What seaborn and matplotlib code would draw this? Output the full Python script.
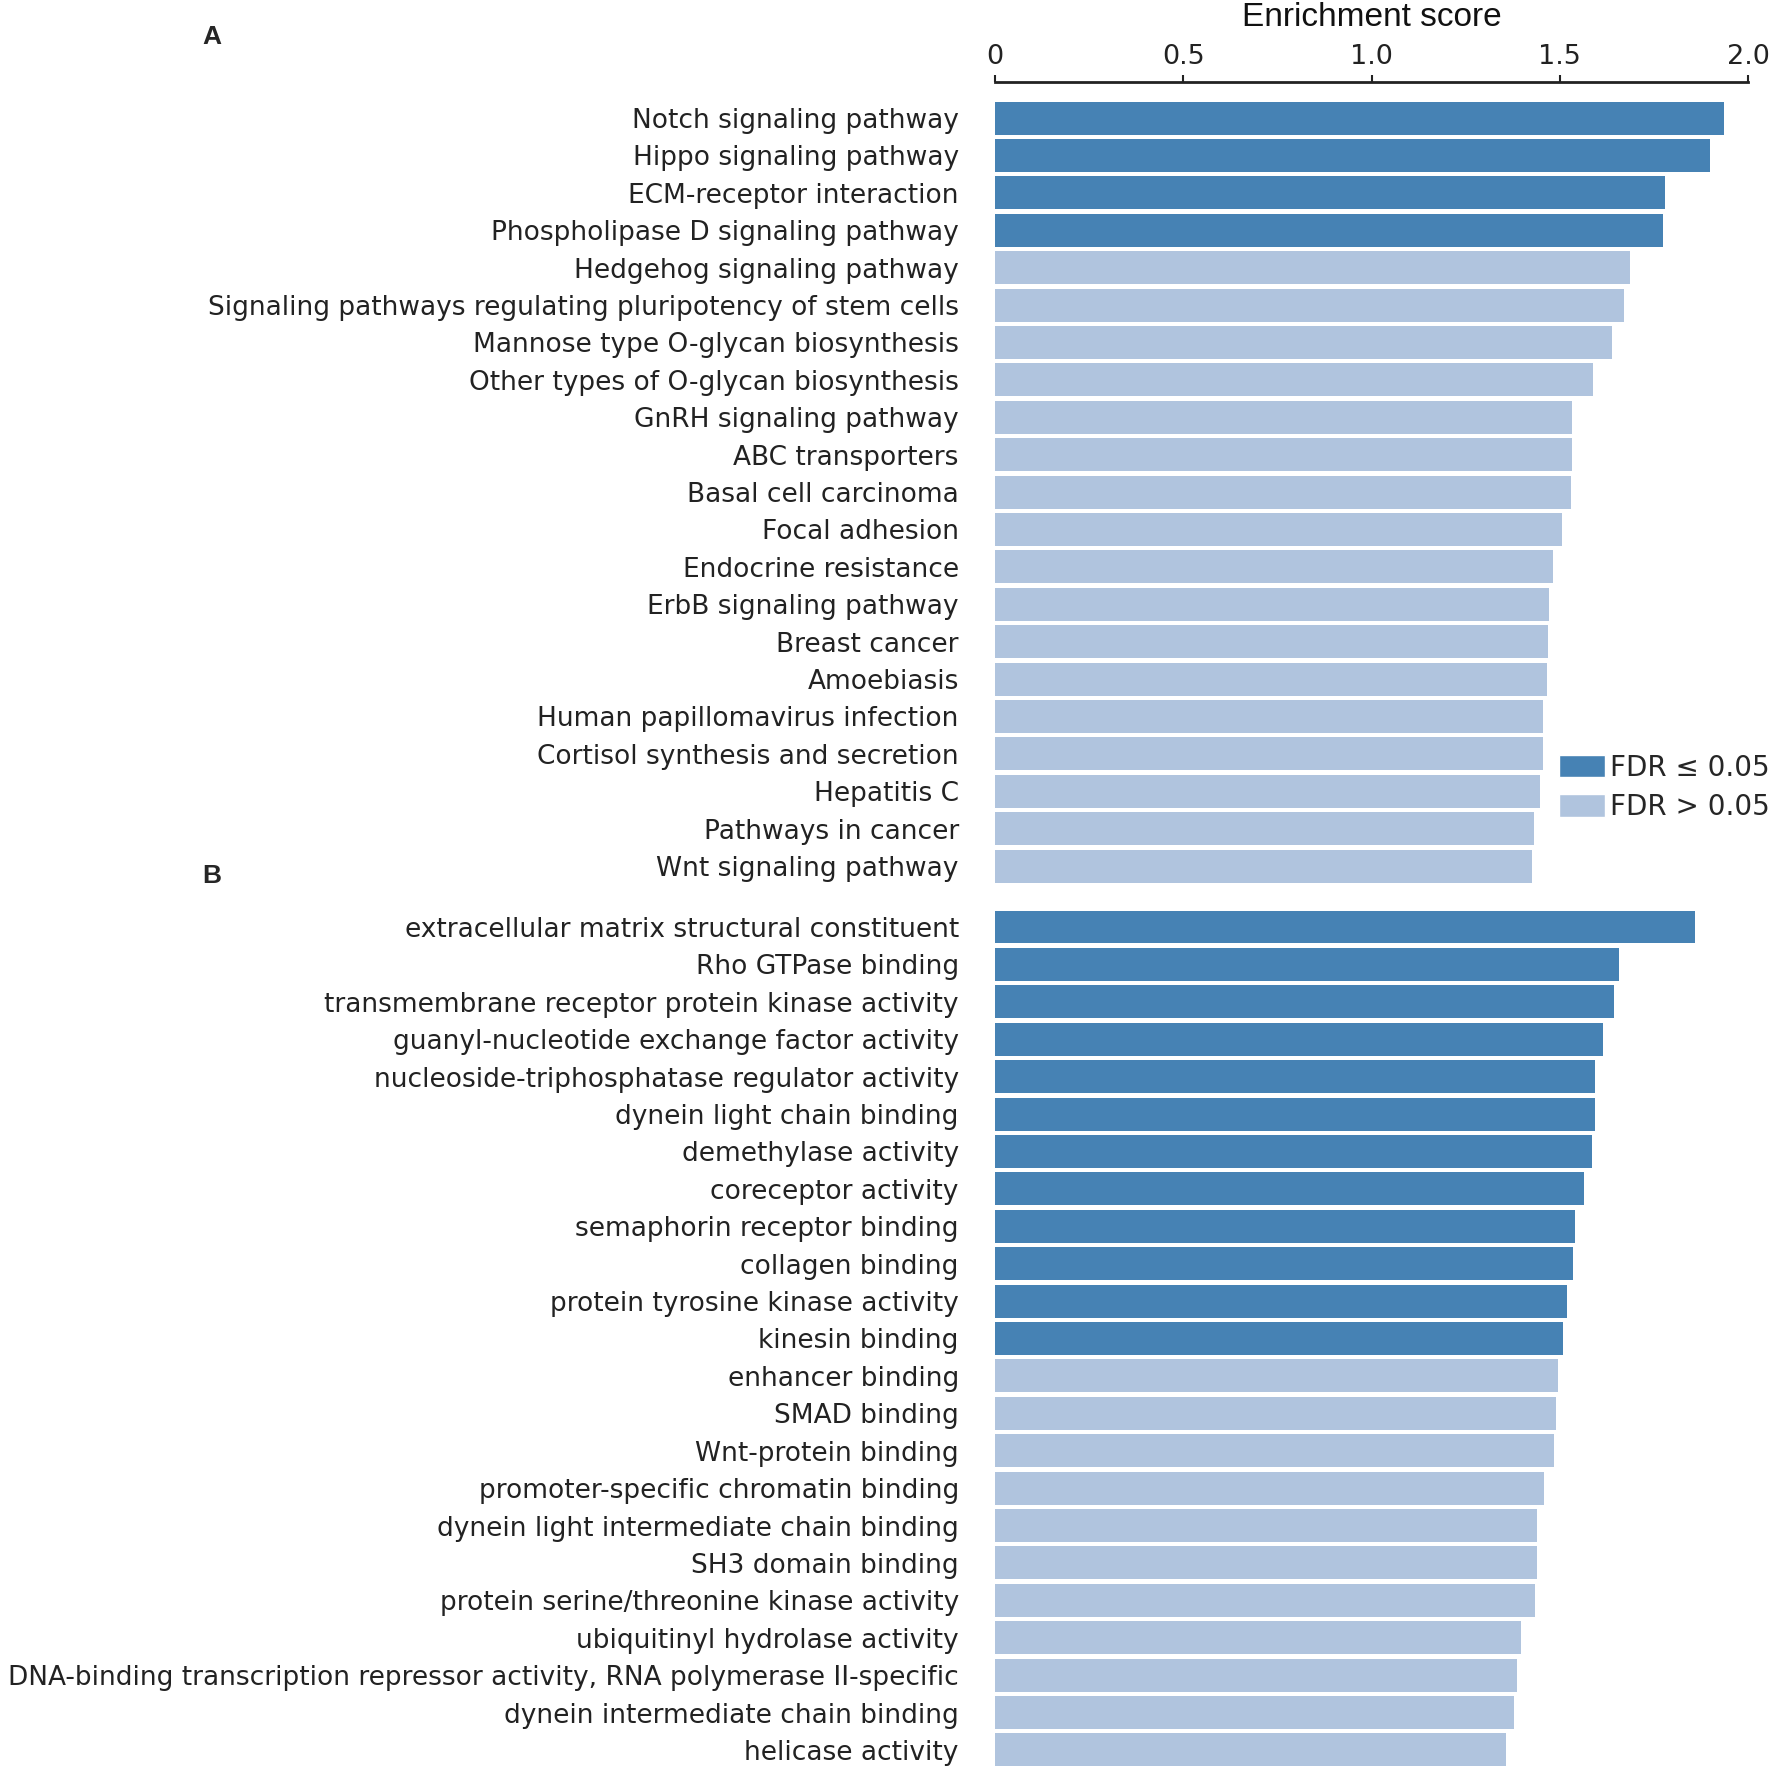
import matplotlib
matplotlib.use("Agg")
import matplotlib.pyplot as plt
import seaborn as sns
import pandas as pd
from matplotlib.patches import Patch

SIG = "FDR \u2264 0.05"
NS = "FDR > 0.05"

# panel A: KEGG pathways
kegg_terms = [
    "Notch signaling pathway",
    "Hippo signaling pathway",
    "ECM-receptor interaction",
    "Phospholipase D signaling pathway",
    "Hedgehog signaling pathway",
    "Signaling pathways regulating pluripotency of stem cells",
    "Mannose type O-glycan biosynthesis",
    "Other types of O-glycan biosynthesis",
    "GnRH signaling pathway",
    "ABC transporters",
    "Basal cell carcinoma",
    "Focal adhesion",
    "Endocrine resistance",
    "ErbB signaling pathway",
    "Breast cancer",
    "Amoebiasis",
    "Human papillomavirus infection",
    "Cortisol synthesis and secretion",
    "Hepatitis C",
    "Pathways in cancer",
    "Wnt signaling pathway",
]
kegg_scores = [1.936, 1.898, 1.780, 1.773, 1.686, 1.670, 1.638, 1.588, 1.533,
               1.533, 1.531, 1.505, 1.483, 1.471, 1.469, 1.465, 1.456, 1.456,
               1.448, 1.431, 1.427]
kegg_fdr = [SIG] * 4 + [NS] * 17

# panel B: GO molecular function
go_terms = [
    "extracellular matrix structural constituent",
    "Rho GTPase binding",
    "transmembrane receptor protein kinase activity",
    "guanyl-nucleotide exchange factor activity",
    "nucleoside-triphosphatase regulator activity",
    "dynein light chain binding",
    "demethylase activity",
    "coreceptor activity",
    "semaphorin receptor binding",
    "collagen binding",
    "protein tyrosine kinase activity",
    "kinesin binding",
    "enhancer binding",
    "SMAD binding",
    "Wnt-protein binding",
    "promoter-specific chromatin binding",
    "dynein light intermediate chain binding",
    "SH3 domain binding",
    "protein serine/threonine kinase activity",
    "ubiquitinyl hydrolase activity",
    "DNA-binding transcription repressor activity, RNA polymerase II-specific",
    "dynein intermediate chain binding",
    "helicase activity",
]
go_scores = [1.860, 1.658, 1.645, 1.616, 1.594, 1.594, 1.585, 1.565, 1.541,
             1.535, 1.518, 1.508, 1.494, 1.489, 1.484, 1.457, 1.440, 1.439,
             1.435, 1.396, 1.387, 1.379, 1.358]
go_fdr = [SIG] * 12 + [NS] * 11

palette = {SIG: "#4682B4", NS: "#B0C4DE"}

sns.set_theme(style="white")
plt.rcParams["font.family"] = ["DejaVu Sans"]

LABEL_SIZE = 19


def draw_panel(ax, terms, scores, fdr, top_pad):
    df = pd.DataFrame({"term": terms, "score": scores, "fdr": fdr})
    sns.barplot(data=df, x="score", y="term", hue="fdr", palette=palette,
                hue_order=[SIG, NS], dodge=False, width=0.88, orient="h",
                saturation=1, linewidth=0, legend=False, ax=ax)
    ax.set_xlim(0, 2.0)
    ax.set_ylim(len(terms) - 0.5, -top_pad)
    for side in ["left", "right", "bottom", "top"]:
        ax.spines[side].set_visible(False)
    ax.set_xlabel("")
    ax.set_ylabel("")
    ax.tick_params(axis="y", length=0, pad=26, labelsize=LABEL_SIZE,
                   labelcolor="#222222")


fig = plt.figure(figsize=(17.72, 17.72), dpi=100)
ax_a = fig.add_axes([0.5615, 0.5007, 0.425, 0.453])
ax_b = fig.add_axes([0.5615, 0.0019, 0.425, 0.4855])

draw_panel(ax_a, kegg_terms, kegg_scores, kegg_fdr, 0.963)
draw_panel(ax_b, go_terms, go_scores, go_fdr, 0.5)

# top axis on panel A
ax_a.spines["top"].set_visible(True)
ax_a.spines["top"].set_linewidth(2)
ax_a.spines["top"].set_color("#222222")
ax_a.xaxis.tick_top()
ax_a.xaxis.set_label_position("top")
ax_a.set_xticks([0, 0.5, 1.0, 1.5, 2.0])
ax_a.set_xticklabels(["0", "0.5", "1.0", "1.5", "2.0"])
ax_a.tick_params(axis="x", top=True, bottom=False, direction="out", length=5,
                 width=1.5, color="#222222", pad=3.5, labelsize=19.5,
                 labelcolor="#222222")
ax_a.set_xlabel("Enrichment score", fontfamily=["Liberation Sans", "DejaVu Sans"],
                fontsize=24, labelpad=13, color="#111111")

ax_b.tick_params(axis="x", bottom=False, top=False, labelbottom=False)

# panel letters
fig.text(212 / 1772, 1 - 37 / 1772, "A", ha="center", va="center",
         fontsize=19, fontweight="bold",
         fontfamily=["Liberation Sans Narrow", "Liberation Sans", "DejaVu Sans"])
fig.text(212 / 1772, 1 - 876 / 1772, "B", ha="center", va="center",
         fontsize=19, fontweight="bold",
         fontfamily=["Liberation Sans Narrow", "Liberation Sans", "DejaVu Sans"])

handles = [Patch(facecolor=palette[SIG], label=SIG),
           Patch(facecolor=palette[NS], label=NS)]
fig.legend(handles=handles, loc="upper left", bbox_to_anchor=(0.8798, 0.5745),
           frameon=False, fontsize=20, handlelength=1.65,
           handleheight=0.85, handletextpad=0.2, labelspacing=0.4,
           borderpad=0, borderaxespad=0)

fig.savefig("out.png", dpi=100)
